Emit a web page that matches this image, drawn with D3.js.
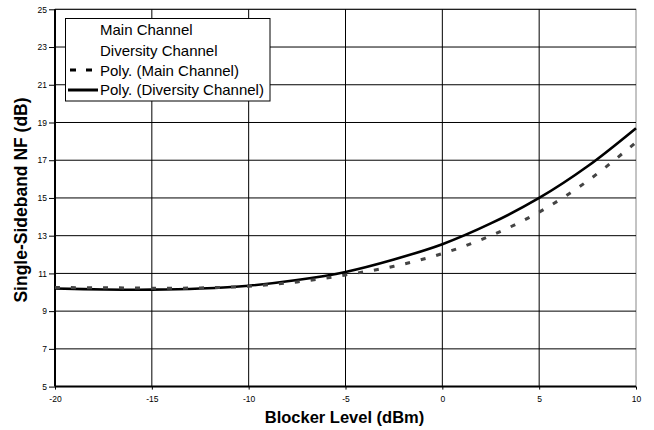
<!DOCTYPE html>
<html>
<head>
<meta charset="utf-8">
<script src="https://cdn.jsdelivr.net/npm/d3@7"></script>
<style>
  html, body { margin: 0; padding: 0; background: #fff; }
  svg { display: block; }
  text { font-family: "Liberation Sans", Arial, sans-serif; }
</style>
</head>
<body>
<svg id="chart" width="654" height="430"></svg>
<script>
// Data (polynomial trend lines)
const blockerLevels = [-20, -17.5, -15, -12.5, -10, -7.5, -5, -2.5, 0, 2.5, 5, 7.5, 10];
const polyMain      = [10.25, 10.24, 10.22, 10.23, 10.32, 10.55, 10.92, 11.38, 12.05, 13.0, 14.25, 15.9, 17.95];
const polyDiversity = [10.20, 10.15, 10.14, 10.20, 10.35, 10.65, 11.08, 11.74, 12.55, 13.65, 15.0, 16.68, 18.7];
const xTicks = [-20, -15, -10, -5, 0, 5, 10];
const yTicks = [5, 7, 9, 11, 13, 15, 17, 19, 21, 23, 25];
const legendLabels = ["Main Channel", "Diversity Channel", "Poly. (Main Channel)", "Poly. (Diversity Channel)"];

const svg = d3.select("#chart");
const L = 55, R = 636, T = 9.3, B = 386.6;

const x = d3.scaleLinear().domain([-20, 10]).range([L, R]);
const y = d3.scaleLinear().domain([5, 25]).range([B, T]);

// plot area border (right/top)
svg.append("rect").attr("x", L).attr("y", T).attr("width", R - L).attr("height", B - T)
  .attr("fill", "#fff").attr("stroke", "#888").attr("stroke-width", 1);

// grid
const g = svg.append("g");
g.selectAll("line.h").data(yTicks.slice(1)).join("line")
  .attr("x1", L).attr("x2", R).attr("y1", d => y(d)).attr("y2", d => y(d))
  .attr("stroke", "#000").attr("stroke-width", 1);
g.selectAll("line.v").data(xTicks.slice(1, -1)).join("line")
  .attr("y1", T).attr("y2", B).attr("x1", d => x(d)).attr("x2", d => x(d))
  .attr("stroke", "#000").attr("stroke-width", 1);

// axes
const fmt = d => String(d);
const xAxis = d3.axisBottom(x).tickValues(xTicks).tickSize(3).tickPadding(6).tickFormat(fmt);
const yAxis = d3.axisLeft(y).tickValues(yTicks).tickSize(6).tickPadding(2).tickFormat(fmt);

const gx = svg.append("g").attr("transform", `translate(0,${B})`).call(xAxis);
const gy = svg.append("g").attr("transform", `translate(${L},0)`).call(yAxis);
[gx, gy].forEach(a => {
  a.select(".domain").attr("stroke", "#000").attr("stroke-width", 2);
  a.selectAll(".tick line").attr("stroke", "#000");
  a.selectAll(".tick text").attr("font-size", "8.5px").attr("fill", "#000")
    .attr("font-family", "Liberation Sans, Arial, sans-serif");
});
gx.select(".domain").attr("d", `M${L},0H${R}`);
gy.select(".domain").attr("d", `M0,${B}V${T}`);

// curves
const lineGen = d3.line().x(d => x(d[0])).y(d => y(d[1])).curve(d3.curveCatmullRom.alpha(0.5));

svg.append("path").datum(blockerLevels.map((v, i) => [v, polyDiversity[i]]))
  .attr("d", lineGen).attr("fill", "none").attr("stroke", "#000").attr("stroke-width", 2.6);
svg.append("path").datum(blockerLevels.map((v, i) => [v, polyMain[i]]))
  .attr("d", lineGen).attr("fill", "none").attr("stroke", "#444").attr("stroke-width", 3)
  .attr("stroke-dasharray", "5,11");

// axis titles
svg.append("text").attr("x", (L + R) / 2 - 1).attr("y", 423).attr("text-anchor", "middle")
  .attr("font-size", "16.5px").attr("font-weight", "bold").text("Blocker Level (dBm)");
svg.append("text").attr("transform", `translate(27,200) rotate(-90)`).attr("text-anchor", "middle")
  .attr("font-size", "17.5px").attr("font-weight", "bold").text("Single-Sideband NF (dB)");

// legend
const lg = svg.append("g");
lg.append("rect").attr("x", 65.5).attr("y", 18.5).attr("width", 204.5).attr("height", 82.5)
  .attr("fill", "#fff").attr("stroke", "#000").attr("stroke-width", 1);
const rowY = [35, 55.5, 75.5, 95];
lg.selectAll("text.l").data(legendLabels).join("text")
  .attr("x", 100).attr("y", (d, i) => rowY[i]).attr("font-size", "15px").attr("fill", "#000").text(d => d);
lg.append("line").attr("x1", 70).attr("x2", 93).attr("y1", 70).attr("y2", 70)
  .attr("stroke", "#000").attr("stroke-width", 3).attr("stroke-dasharray", "6,10");
lg.append("line").attr("x1", 68).attr("x2", 98).attr("y1", 90).attr("y2", 90)
  .attr("stroke", "#000").attr("stroke-width", 3);
</script>
</body>
</html>
